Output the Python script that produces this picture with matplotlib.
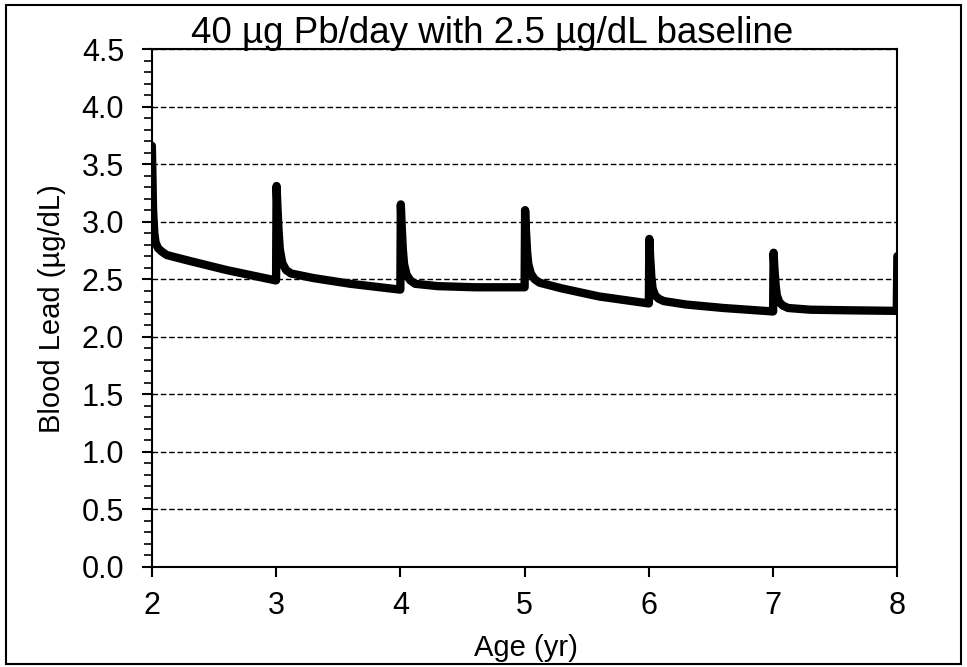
import matplotlib.pyplot as plt
from matplotlib.patches import Rectangle
from matplotlib.ticker import MultipleLocator

plt.rcParams['font.family'] = ['Liberation Sans', 'DejaVu Sans']

# Age (yr) and blood lead (ug/dL)
age = [
    2.0, 2.005, 2.01, 2.02, 2.03, 2.05, 2.08, 2.12, 2.3, 2.6, 2.995,
    3.0, 3.004, 3.01, 3.02, 3.03, 3.05, 3.08, 3.12, 3.3, 3.6, 3.995,
    4.0, 4.004, 4.01, 4.02, 4.03, 4.05, 4.08, 4.12, 4.3, 4.6, 4.995,
    5.0, 5.004, 5.01, 5.02, 5.03, 5.05, 5.08, 5.12, 5.3, 5.6, 5.995,
    6.0, 6.004, 6.01, 6.02, 6.03, 6.05, 6.08, 6.12, 6.3, 6.6, 6.995,
    7.0, 7.004, 7.01, 7.02, 7.03, 7.05, 7.08, 7.12, 7.3, 7.6, 7.995,
    8.0,
]
blood_lead = [
    3.66, 3.40, 3.10, 2.90, 2.82, 2.77, 2.74, 2.71, 2.66, 2.58, 2.49,
    2.49, 3.31, 3.15, 2.92, 2.76, 2.64, 2.58, 2.55, 2.51, 2.46, 2.41,
    2.41, 3.15, 2.98, 2.76, 2.63, 2.54, 2.49, 2.46, 2.44, 2.43, 2.43,
    2.43, 3.10, 2.94, 2.74, 2.63, 2.55, 2.50, 2.47, 2.42, 2.35, 2.29,
    2.29, 2.85, 2.70, 2.52, 2.42, 2.36, 2.33, 2.31, 2.28, 2.25, 2.22,
    2.22, 2.73, 2.60, 2.45, 2.36, 2.30, 2.27, 2.25, 2.235, 2.23, 2.225,
    2.70,
]

fig = plt.figure(figsize=(9.67, 6.67), dpi=100)
ax = fig.add_axes([0.157, 0.150, 0.771, 0.7765])

ax.plot(age, blood_lead, color='black', lw=6, solid_joinstyle='round',
        solid_capstyle='round', zorder=3)

ax.set_xlim(2, 8)
ax.set_ylim(0, 4.5)
ax.xaxis.set_major_locator(MultipleLocator(1))
ax.yaxis.set_major_locator(MultipleLocator(0.5))
ax.yaxis.set_minor_locator(MultipleLocator(0.1))
ax.yaxis.set_major_formatter(plt.FormatStrFormatter('%.1f'))

ax.grid(axis='y', which='major', color='black', linestyle=(0, (4, 2)), lw=1.0)
for s in ax.spines.values():
    s.set_linewidth(1.5)
    s.set_color('black')

ax.tick_params(axis='both', which='major', direction='out', length=7, width=1.5,
               labelsize=22, color='black')
ax.tick_params(axis='y', which='major', pad=13)
ax.tick_params(axis='x', which='major', pad=10)
ax.tick_params(axis='y', which='minor', direction='out', length=6, width=1.2)

fig.text(0.509, 0.9355, '40 µg Pb/day with 2.5 µg/dL baseline', ha='center',
         va='baseline', fontsize=26.5)
fig.text(0.544, 0.016, 'Age (yr)', ha='center', va='baseline', fontsize=21)
fig.text(0.054, 0.538, 'Blood Lead (µg/dL)', ha='center', va='center',
         rotation=90, fontsize=21)

fig.patches.append(Rectangle((0.006, 0.004), 0.988, 0.989, fill=False,
                             edgecolor='black', lw=1.5,
                             transform=fig.transFigure, figure=fig))

fig.savefig('out.png', dpi=100)
